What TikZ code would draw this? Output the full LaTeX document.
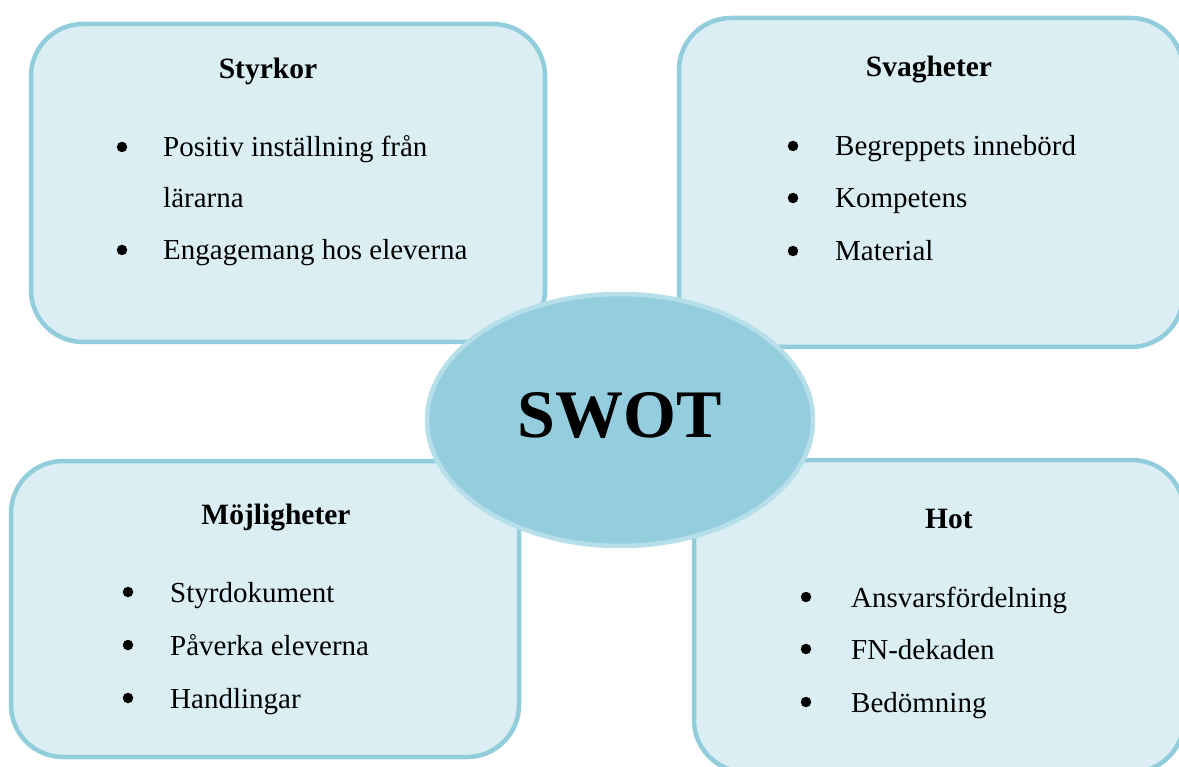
\documentclass[tikz,border=0pt]{standalone}
\usepackage{fontspec}
\setmainfont{Liberation Serif}
\usetikzlibrary{shapes.geometric}
\definecolor{boxfill}{HTML}{DAEEF3}
\definecolor{boxline}{HTML}{92CDDC}
\definecolor{ellfill}{HTML}{94CDDD}
\definecolor{ellline}{HTML}{B7DFE9}
\begin{document}
\begin{tikzpicture}[x=1pt,y=-1pt,
  quad/.style={draw=boxline, fill=boxfill, line width=4.5pt, rounded corners=52pt},
  ttl/.style={anchor=base, inner sep=0pt, font=\fontsize{29.5}{34}\selectfont\bfseries},
  itm/.style={anchor=base west, inner sep=0pt, font=\fontsize{29}{34}\selectfont},
  bul/.style={circle, fill=black, inner sep=0pt, minimum size=10.5pt, yshift=10pt}]
\useasboundingbox (0,0) rectangle (1179,767);
\clip (0,0) rectangle (1179,767);
% boxes
\draw[quad] (31,24) rectangle (545,342);
\draw[quad] (679,18) rectangle (1183,347);
\draw[quad] (11,461) rectangle (519,757);
\draw[quad] (694,460) rectangle (1184,772);
% ellipse
\node[ellipse, draw=ellline, fill=ellfill, line width=4.5pt, minimum width=386pt, minimum height=252pt, inner sep=0pt] (swot) at (620,420) {};
\node[anchor=base, inner sep=0pt, font=\fontsize{68}{80}\selectfont\bfseries] (swott) at (620,438) {SWOT};
% Styrkor
\node[ttl] (t1) at (268,79) {Styrkor};
\node[bul] (b11) at (122,157) {};
\node[itm] (i11) at (163,157) {Positiv inställning från};
\node[itm] (i12) at (163,208) {lärarna};
\node[bul] (b12) at (122,260) {};
\node[itm] (i13) at (163,260) {Engagemang hos eleverna};
% Svagheter
\node[ttl] (t2) at (929,77) {Svagheter};
\node[bul] (b21) at (793,156) {};
\node[itm] (i21) at (835,156) {Begreppets innebörd};
\node[bul] (b22) at (793,208) {};
\node[itm] (i22) at (835,208) {Kompetens};
\node[bul] (b23) at (793,261) {};
\node[itm] (i23) at (835,261) {Material};
% Möjligheter
\node[ttl] (t3) at (276,524) {Möjligheter};
\node[bul] (b31) at (128,602) {};
\node[itm] (i31) at (170,602) {Styrdokument};
\node[bul] (b32) at (128,655) {};
\node[itm] (i32) at (170,655) {Påverka eleverna};
\node[bul] (b33) at (128,708) {};
\node[itm] (i33) at (170,708) {Handlingar};
% Hot
\node[ttl] (t4) at (949,528) {Hot};
\node[bul] (b41) at (806,607) {};
\node[itm] (i41) at (851,607) {Ansvarsfördelning};
\node[bul] (b42) at (806,659) {};
\node[itm] (i42) at (851,659) {FN-dekaden};
\node[bul] (b43) at (806,712) {};
\node[itm] (i43) at (851,712) {Bedömning};
\end{tikzpicture}
\end{document}
